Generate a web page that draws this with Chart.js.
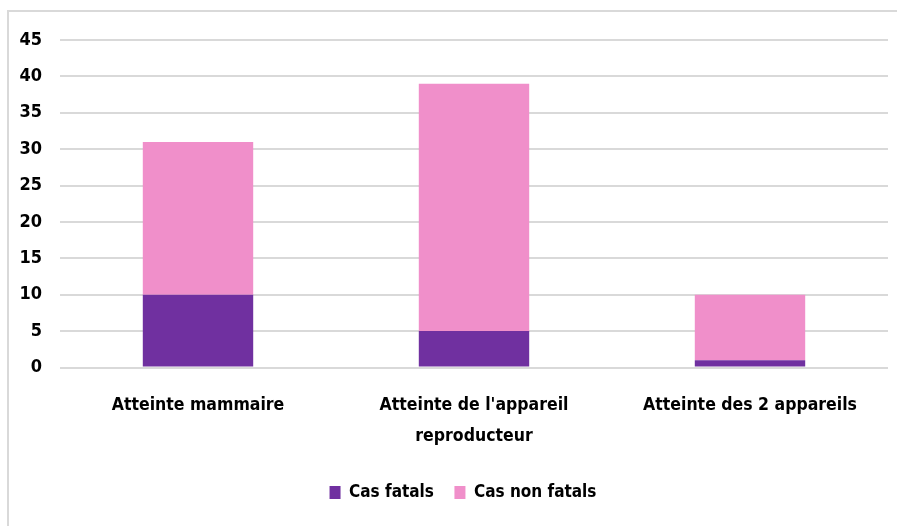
<!DOCTYPE html>
<html lang="fr">
<head>
<meta charset="UTF-8">
<title>Cas fatals / non fatals</title>
<script src="https://cdn.jsdelivr.net/npm/chart.js@4.4.1/dist/chart.umd.min.js"></script>
<style>
    html, body { margin: 0; padding: 0; background: #fff; }
    .wrap { position: relative; width: 897px; height: 526px; }
</style>
</head>
<body>
<div class="wrap"><canvas id="chart"></canvas></div>
<script>
    // données
    const categories = ["Atteinte mammaire", ["Atteinte de l'appareil", "reproducteur"], "Atteinte des 2 appareils"];
    const casFatals = [10, 5, 1];
    const casNonFatals = [21, 34, 9];
    const seriesNames = ["Cas fatals", "Cas non fatals"];
    const yTicks = [0, 5, 10, 15, 20, 25, 30, 35, 40, 45];

    const FONT = "'Liberation Sans Narrow', 'DejaVu Sans Condensed', 'Noto Sans', sans-serif";

    // cadre gris (seuls les bords gauche et haut sont visibles)
    const framePlugin = {
        id: 'frame',
        beforeDraw(chart) {
            const ctx = chart.ctx;
            ctx.save();
            ctx.fillStyle = '#fff';
            ctx.fillRect(0, 0, chart.width, chart.height);
            ctx.strokeStyle = '#d9d9d9';
            ctx.lineWidth = 2;
            ctx.strokeRect(8, 11, chart.width + 20, chart.height + 20);
            ctx.restore();
        }
    };

    // la légende est un peu décalée vers la droite dans l'original
    const legendShift = {
        id: 'legendShift',
        afterLayout(chart) {
            if (chart.legend) chart.legend.left = 38;
        }
    };

    new Chart(document.getElementById('chart'), {
        type: 'bar',
        data: {
            labels: categories,
            datasets: [
                { label: seriesNames[0], data: casFatals, backgroundColor: '#7030a0' },
                { label: seriesNames[1], data: casNonFatals, backgroundColor: '#f08fca' }
            ]
        },
        options: {
            responsive: true,
            maintainAspectRatio: false,
            animation: false,
            layout: { padding: { top: 40, right: 9, left: 0, bottom: 15 } },
            datasets: { bar: { categoryPercentage: 1, barPercentage: 0.4 } },
            plugins: {
                tooltip: { enabled: false },
                legend: {
                    position: 'bottom',
                    labels: {
                        color: '#000',
                        font: { family: FONT, size: 17, weight: 'bold' },
                        boxWidth: 11,
                        boxHeight: 13,
                        padding: 20.5
                    }
                }
            },
            scales: {
                x: {
                    stacked: true,
                    grid: { display: false },
                    border: { display: false },
                    ticks: {
                        color: '#000',
                        font: { family: FONT, size: 17.5, weight: 'bold', lineHeight: 1.8 },
                        maxRotation: 0,
                        autoSkip: false,
                        padding: 14
                    },
                    afterFit(scale) { scale.height = 96; }
                },
                y: {
                    stacked: true,
                    min: 0,
                    max: 45,
                    afterBuildTicks(scale) { scale.ticks = yTicks.map(v => ({ value: v })); },
                    grid: { color: '#d9d9d9', lineWidth: 2, drawTicks: false },
                    border: { display: false },
                    ticks: {
                        color: '#000',
                        font: { family: FONT, size: 18, weight: 'bold' },
                        padding: 18
                    },
                    afterFit(scale) { scale.width = 60; }
                }
            }
        },
        plugins: [framePlugin, legendShift]
    });
</script>
</body>
</html>
